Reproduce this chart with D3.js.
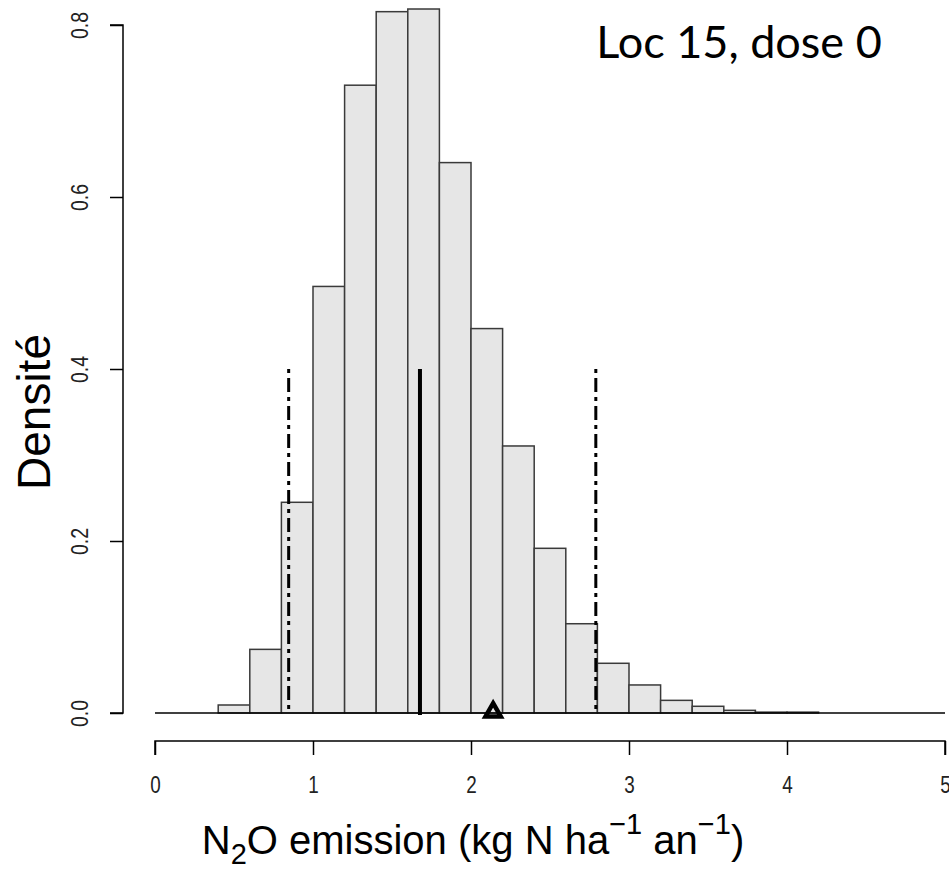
<!DOCTYPE html>
<html>
<head>
<meta charset="utf-8">
<script src="https://cdn.jsdelivr.net/npm/d3@7"></script>
<style>
  body { margin: 0; background: #fff; }
  svg text { font-family: "Liberation Sans", Arial, sans-serif; }
</style>
</head>
<body>
<div id="chart"></div>
<script>
// histogram bins (left edge) and density heights
const binStarts = [0.4, 0.6, 0.8, 1.0, 1.2, 1.4, 1.6, 1.8, 2.0, 2.2, 2.4, 2.6, 2.8, 3.0, 3.2, 3.4, 3.6, 3.8, 4.0];
const densities = [0.0093, 0.074, 0.245, 0.496, 0.730, 0.8155, 0.8186, 0.640, 0.447, 0.3105, 0.1915, 0.1038, 0.0578, 0.0326, 0.0147, 0.0078, 0.0031, 0.001, 0.001];
const binWidth = 0.2;

const xTicks = [0, 1, 2, 3, 4, 5];
const yTicks = [0.0, 0.2, 0.4, 0.6, 0.8];

// reference lines: quantiles (dash-dot), median (solid), observed (triangle)
const quantiles = [0.846, 2.79];
const median = 1.677;
const observed = 2.14;
const lineTop = 0.4;

const width = 949, height = 874;

const svg = d3.select("#chart").append("svg")
    .attr("width", width)
    .attr("height", height);

const x = d3.scaleLinear().domain([0, 5]).range([155, 945]);
const y = d3.scaleLinear().domain([0, 0.8]).range([713, 25]);

// bars
svg.selectAll("rect.bar")
    .data(binStarts.map((b, i) => ({b, d: densities[i]})))
    .enter()
    .append("rect")
    .attr("class", "bar")
    .attr("x", d => x(d.b))
    .attr("y", d => y(d.d))
    .attr("width", d => x(d.b + binWidth) - x(d.b))
    .attr("height", d => y(0) - y(d.d))
    .attr("fill", "#e6e6e6")
    .attr("stroke", "#3a3a3a")
    .attr("stroke-width", 1.5);

// baseline
svg.append("line")
    .attr("x1", x(0)).attr("x2", x(5))
    .attr("y1", y(0)).attr("y2", y(0))
    .attr("stroke", "#000").attr("stroke-width", 1.5);

// quantile lines
svg.selectAll("line.q")
    .data(quantiles)
    .enter()
    .append("line")
    .attr("class", "q")
    .attr("x1", d => x(d)).attr("x2", d => x(d))
    .attr("y1", y(lineTop)).attr("y2", y(0))
    .attr("stroke", "#000")
    .attr("stroke-width", 3)
    .attr("stroke-dasharray", "4,5,14,5");

// median
svg.append("line")
    .attr("x1", x(median)).attr("x2", x(median))
    .attr("y1", y(lineTop)).attr("y2", y(0) + 2)
    .attr("stroke", "#000")
    .attr("stroke-width", 4);

// observed triangle
const tri = d3.symbol().type(d3.symbolTriangle).size(100);
svg.append("path")
    .attr("d", tri())
    .attr("transform", `translate(${x(observed)},${y(0) - 1})`)
    .attr("fill", "none")
    .attr("stroke", "#000")
    .attr("stroke-width", 4.5);

// x axis
const xAxis = svg.append("g")
    .attr("transform", "translate(0,741)")
    .call(d3.axisBottom(x).tickValues(xTicks).tickSize(14).tickFormat(d3.format("d")));
xAxis.select(".domain").attr("stroke", "#000").attr("stroke-width", 1.5)
    .attr("d", `M${x(0)},14V0H${x(5)}V14`);
xAxis.selectAll(".tick line").attr("stroke", "#000").attr("stroke-width", 1.5);
xAxis.selectAll(".tick text")
    .attr("y", 0)
    .attr("dy", null)
    .attr("transform", "translate(0,52) scale(0.82,1)")
    .style("font-size", "23px")
    .attr("fill", "#222");

// y axis
const yAxis = svg.append("g")
    .attr("transform", "translate(123,0)")
    .call(d3.axisLeft(y).tickValues(yTicks).tickSize(13).tickFormat(d3.format(".1f")));
yAxis.select(".domain").attr("stroke", "#000").attr("stroke-width", 1.5)
    .attr("d", `M-13,${y(0)}H0V${y(0.8)}H-13`);
yAxis.selectAll(".tick text")
    .attr("x", null).attr("dy", null)
    .attr("text-anchor", "middle")
    .attr("transform", "translate(-35,0) rotate(-90) scale(0.85,1)")
    .style("font-size", "23px")
    .attr("fill", "#222");
yAxis.selectAll(".tick line").attr("stroke", "#000").attr("stroke-width", 1.5);

// axis titles
svg.append("text")
    .attr("transform", "translate(50,412) rotate(-90)")
    .attr("text-anchor", "middle")
    .attr("font-size", 46)
    .text("Densité");

const xl = svg.append("text")
    .attr("x", 473)
    .attr("y", 854)
    .attr("text-anchor", "middle")
    .attr("font-size", 40);
xl.append("tspan").text("N");
xl.append("tspan").attr("font-size", 29).attr("dy", 10).text("2");
xl.append("tspan").attr("dy", -10).text("O emission (kg N ha");
xl.append("tspan").attr("font-size", 29).attr("dy", -20).text("\u22121");
xl.append("tspan").attr("dy", 20).text(" an");
xl.append("tspan").attr("font-size", 29).attr("dy", -20).text("\u22121");
xl.append("tspan").attr("dy", 20).text(")");

// panel title
svg.append("text")
    .attr("x", 739)
    .attr("y", 58)
    .attr("text-anchor", "middle")
    .attr("font-size", 45)
    .style("font-family", "Lato, 'Open Sans', sans-serif")
    .text("Loc 15, dose 0");
</script>
</body>
</html>
